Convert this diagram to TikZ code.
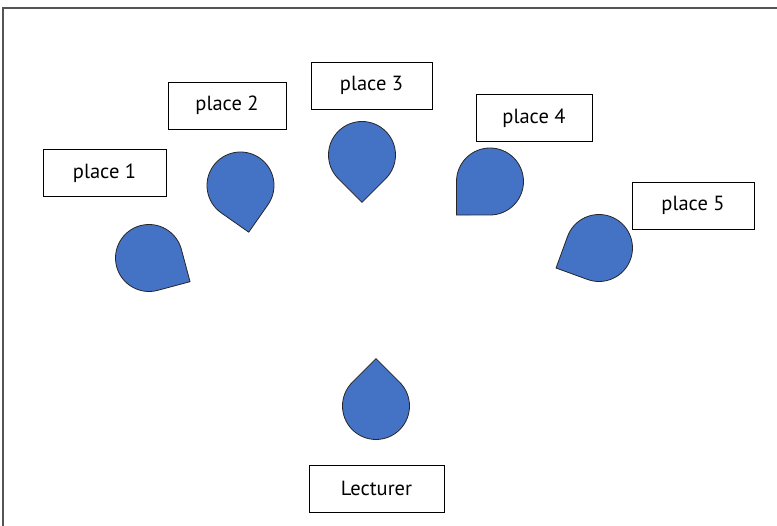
\documentclass[tikz,border=0pt]{standalone}
\usepackage{fontspec}
\setmainfont{PT Sans}
\usepackage{tikz}
\usetikzlibrary{calc}
\definecolor{seatblue}{HTML}{4472C4}
\definecolor{framegray}{HTML}{555555}
\tikzstyle{label} = [draw, rectangle, text centered, minimum height=47pt, font=\fontsize{20.5}{22}\selectfont]
\tikzstyle{drop} = [draw=black!85, line width=0.8pt, fill=seatblue]
\tikzset{seat/.pic={
    % circle with one square corner pointing along the x axis
    \path[drop] (0:47.4) -- (45:33.5) arc (45:315:33.5) -- cycle;
}}

\begin{document}
\begin{tikzpicture}[x=1pt, y=1pt]
        \useasboundingbox (0,0) rectangle (777,526);
        \draw[framegray, line width=1.2pt] (3,0) -- (3,518) -- (777,518);
        % places and their seats
        \node[label, minimum width=123pt] (place1) at (104.5,353) {place 1};
        \node[label, minimum width=118pt] (place2) at (227,420.5) {place 2};
        \node[label, minimum width=121pt] (place3) at (371.5,440.5) {place 3};
        \node[label, minimum width=116pt] (place4) at (534,408) {place 4};
        \node[label, minimum width=122pt] (place5) at (693,320.5) {place 5};
        \node[label, minimum width=135pt] (lect) at (376.5,37.5) {Lecturer};
        \pic[rotate=-30] at (149,268) {seat};
        \pic[rotate=-80] at (240.5,340.5) {seat};
        \pic[rotate=-90] at (362,371) {seat};
        \pic[rotate=-135] at (490,344.5) {seat};
        \pic[rotate=-155] at (599,278) {seat};
        \pic[rotate=90] at (376,120) {seat};
    \end{tikzpicture}
\end{document}
